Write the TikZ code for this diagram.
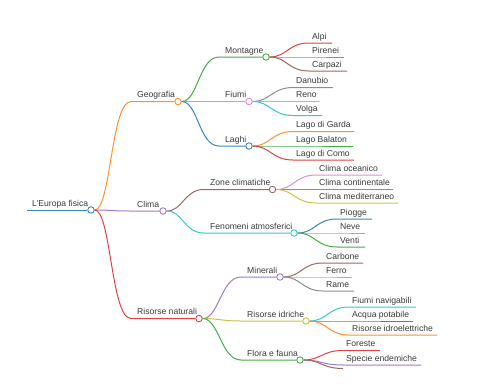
\documentclass[tikz,border=0pt]{standalone}
\usepackage{fontspec}
\setmainfont{Liberation Sans}
\definecolor{cB}{HTML}{3A86BE}
\definecolor{cO}{HTML}{FF9030}
\definecolor{cG}{HTML}{46AE46}
\definecolor{cR}{HTML}{DB4445}
\definecolor{cP}{HTML}{A07ACA}
\definecolor{cBr}{HTML}{9A6A60}
\definecolor{cPk}{HTML}{E88BCB}
\definecolor{cGy}{HTML}{8E8E8E}
\definecolor{cOl}{HTML}{C6C740}
\definecolor{cC}{HTML}{36C6D5}
\definecolor{txt}{HTML}{3A3A3A}
\tikzset{
  lbl/.style={anchor=base west, inner sep=0pt, font=\fontsize{8.6}{10}\selectfont, text=txt},
  dot/.style={circle, draw, fill=white, inner sep=0pt, minimum size=6.5pt, line width=0.9pt},
  edge/.style={line width=1pt},
}
% internal node: parent, name, colour, y, curve-end x, circle x, text x, text
\newcommand\mmbranch[8]{%
  \coordinate (#2-s) at (#5,#4);
  \node[dot, draw=#3] (#2) at (#6,#4) {};
  \draw[edge,#3] (#1) .. controls +(20,0) and +(-20,0) .. (#2-s) -- (#2);
  \node[lbl] (#2-t) at (#7,#4-3.7) {#8};
}
% leaf: parent, name, colour, y, text x, end x, text
\newcommand\mmleaf[7]{%
  \coordinate (#2-s) at (#5-3,#4);
  \coordinate (#2) at (#6,#4);
  \draw[edge,#3] (#1) .. controls +(21,0) and +(-21,0) .. (#2-s) -- (#2);
  \node[lbl] (#2-t) at (#5,#4-3.7) {#7};
}
\begin{document}
\begin{tikzpicture}[x=1pt,y=-1pt]
\useasboundingbox (0,0) rectangle (480,384);
% root
\coordinate (root-s) at (27,210);
\node[dot, draw=cB] (root) at (91,210) {};
\draw[edge,cB] (root-s) -- (root);
\node[lbl] (root-t) at (32,206.3) {L'Europa fisica};
% level 1
\mmbranch{root}{geo}{cO}{101.5}{131}{178}{137}{Geografia}
\mmbranch{root}{clima}{cP}{211}{131}{163}{137}{Clima}
\mmbranch{root}{ris}{cR}{318.5}{131}{199}{137}{Risorse naturali}
% level 2
\mmbranch{geo}{mont}{cG}{57}{219}{266}{225}{Montagne}
\mmbranch{geo}{fiumi}{cPk}{101.5}{219}{249}{225}{Fiumi}
\mmbranch{geo}{laghi}{cB}{146}{219}{249}{225}{Laghi}
\mmbranch{clima}{zone}{cBr}{189.5}{204}{272.5}{210}{Zone climatiche}
\mmbranch{clima}{fen}{cC}{233}{204}{294}{210}{Fenomeni atmosferici}
\mmbranch{ris}{min}{cP}{277}{241}{280}{247}{Minerali}
\mmbranch{ris}{idr}{cOl}{321}{241}{306}{247}{Risorse idriche}
\mmbranch{ris}{flora}{cG}{360}{241}{300}{247}{Flora e fauna}
% leaves
\mmleaf{mont}{alpi}{cR}{43}{312}{332}{Alpi}
\mmleaf{mont}{pir}{cP}{57}{312}{344}{Pirenei}
\mmleaf{mont}{carp}{cBr}{71}{312}{347}{Carpazi}
\mmleaf{fiumi}{dan}{cGy}{87.5}{296}{333}{Danubio}
\mmleaf{fiumi}{reno}{cOl}{101.5}{296}{320}{Reno}
\mmleaf{fiumi}{volga}{cC}{115.5}{296}{322}{Volga}
\mmleaf{laghi}{garda}{cO}{131.5}{296}{354}{Lago di Garda}
\mmleaf{laghi}{bal}{cG}{146}{296}{353}{Lago Balaton}
\mmleaf{laghi}{como}{cR}{160}{296}{354}{Lago di Como}
\mmleaf{zone}{oce}{cPk}{175}{319}{382}{Clima oceanico}
\mmleaf{zone}{cont}{cGy}{189.5}{319}{393}{Clima continentale}
\mmleaf{zone}{med}{cOl}{203}{319}{398}{Clima mediterraneo}
\mmleaf{fen}{piog}{cB}{219}{340}{372}{Piogge}
\mmleaf{fen}{neve}{cO}{233}{340}{365}{Neve}
\mmleaf{fen}{venti}{cG}{247}{340}{365}{Venti}
\mmleaf{min}{carb}{cBr}{263}{326}{363}{Carbone}
\mmleaf{min}{ferro}{cPk}{277}{326}{352}{Ferro}
\mmleaf{min}{rame}{cGy}{291}{326}{354}{Rame}
\mmleaf{idr}{fnav}{cC}{307}{352}{416}{Fiumi navigabili}
\mmleaf{idr}{acq}{cB}{321}{352}{413}{Acqua potabile}
\mmleaf{idr}{idro}{cO}{335}{352}{437}{Risorse idroelettriche}
\mmleaf{flora}{for}{cR}{350.5}{346}{380}{Foreste}
\mmleaf{flora}{spec}{cP}{365}{346}{421}{Specie endemiche}
\coordinate (extra) at (343,368.5);
\draw[edge,cBr] (flora) .. controls +(21,0) and +(-21,0) .. (extra);
\end{tikzpicture}
\end{document}
